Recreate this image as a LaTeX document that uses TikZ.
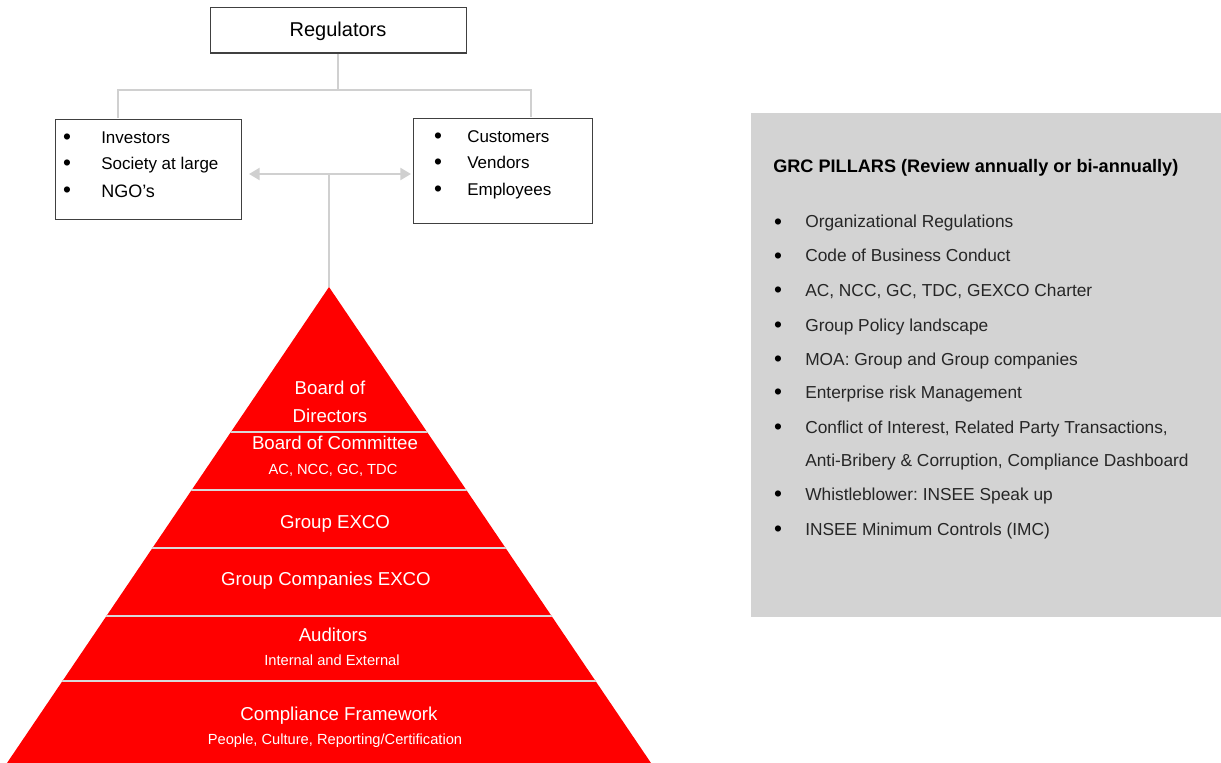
\documentclass[tikz,border=0pt]{standalone}
\usepackage{fontspec}
\setmainfont{Liberation Sans}
\usetikzlibrary{arrows.meta}
\definecolor{pyrred}{HTML}{FF0000}
\definecolor{sepgray}{HTML}{D9D9D9}
\definecolor{conngray}{HTML}{D0D0D0}
\definecolor{panelgray}{HTML}{D3D3D3}
\newcommand{\fs}[1]{\fontsize{#1}{#1}\selectfont}
\frenchspacing
\begin{document}
\begin{tikzpicture}[x=0.75pt,y=-0.75pt,
  outbox/.style={draw=black!75,line width=1.1pt,fill=white,anchor=north west,inner sep=0pt},
  conn/.style={draw=conngray,line width=1.6pt},
  sepline/.style={draw=sepgray,line width=1.6pt},
  pyrbig/.style={text=white,font=\fs{14pt},anchor=base,inner sep=0pt},
  pyrsmall/.style={text=white,font=\fs{11pt},anchor=base,inner sep=0pt},
  boxtxt/.style={font=\fs{12.75pt},anchor=base west,inner sep=0pt},
  bul/.style={font=\fs{17pt},anchor=base,inner sep=0pt},
  grctxt/.style={font=\fs{13pt}\frenchspacing,text=black!85,anchor=base west,inner sep=0pt},
]
\useasboundingbox (0,0) rectangle (1221,763);
\fill[white] (0,0) rectangle (1221,763);

% Regulators box
\node[outbox,minimum width=192pt,minimum height=34pt] (reg) at (210,7) {};
\node[font=\fs{15pt},anchor=base,inner sep=0pt] (regt) at (338,37) {Regulators};

% stakeholder boxes
\node[outbox,minimum width=139.5pt,minimum height=75pt] (lb) at (55,119) {};
\node[outbox,minimum width=134.25pt,minimum height=78.75pt] (rb) at (413,118) {};

\node[bul] (lb1b) at (67,145) {•};
\node[boxtxt] (lb1) at (101,144) {Investors};
\node[bul] (lb2b) at (67,171) {•};
\node[boxtxt] (lb2) at (101,170) {Society at large};
\node[bul] (lb3b) at (67,198) {•};
\node[boxtxt,font=\fs{13.5pt}] (lb3) at (101,198) {NGO’s};

\node[bul] (rb1b) at (438,144) {•};
\node[boxtxt] (rb1) at (467,143) {Customers};
\node[bul] (rb2b) at (438,170) {•};
\node[boxtxt] (rb2) at (467,169) {Vendors};
\node[bul] (rb3b) at (438,197) {•};
\node[boxtxt] (rb3) at (467,196) {Employees};

% connectors from Regulators
\coordinate (j) at (338,90);
\coordinate (lt) at (118,118);
\coordinate (rt) at (531,117);
\draw[conn] (j |- reg.south) -- (j);
\draw[conn] (lt) -- (lt |- j) -- (rt |- j) -- (rt);

% double arrow and stem
\coordinate (al) at (249,174);
\coordinate (ar) at (411,174);
\coordinate (stem) at (329,174);
\coordinate (apex) at (329,287);
\coordinate (bl) at (7,763);
\coordinate (br) at (651,763);
\draw[conn,{Triangle[length=8pt,width=9pt]}-{Triangle[length=8pt,width=9pt]}] (al) -- (ar);
\draw[conn] (stem) -- (apex);

% pyramid
\fill[pyrred] (apex) -- (bl) -- (br) -- cycle;
\begin{scope}
  \clip (apex) -- (bl) -- (br) -- cycle;
  \foreach \yy in {432,490,548,616,681} {
    \draw[sepline] (0,\yy) -- (700,\yy);
  }
\end{scope}

\node[pyrbig] (p1a) at (330,394) {Board of};
\node[pyrbig] (p1b) at (330,422) {Directors};
\node[pyrbig] (p2a) at (335,449) {Board of Committee};
\node[pyrsmall] (p2b) at (333,474) {AC, NCC, GC, TDC};
\node[pyrbig] (p3) at (335,528) {Group EXCO};
\node[pyrbig] (p4) at (326,585) {Group Companies EXCO};
\node[pyrbig] (p5a) at (333,641) {Auditors};
\node[pyrsmall] (p5b) at (332,665) {Internal and External};
\node[pyrbig] (p6a) at (339,720) {Compliance Framework};
\node[pyrsmall] (p6b) at (335,744) {People, Culture, Reporting/Certification};

% GRC panel
\node[fill=panelgray,minimum width=352.5pt,minimum height=378pt,anchor=north west,inner sep=0pt] (grc) at (751,113) {};
\node[font=\fs{13.6pt}\bfseries,anchor=base west,inner sep=0pt] (grct) at (773,173) {GRC PILLARS (Review annually or bi-annually)};

\foreach \yy/\tt [count=\i] in {
  228/Organizational Regulations,
  262/Code of Business Conduct,
  296/{AC, NCC, GC, TDC, GEXCO Charter},
  331/Group Policy landscape,
  365/MOA: Group and Group companies,
  398/Enterprise risk Management,
  433/{Conflict of Interest, Related Party Transactions,},
  500/Whistleblower: INSEE Speak up,
  535/INSEE Minimum Controls (IMC)} {
  \node[bul] (gb\i) at (778,\yy+1) {•};
  \node[grctxt] (gi\i) at (805,\yy) {\tt};
}
\node[grctxt] (gi7b) at (805,466) {Anti-Bribery \& Corruption, Compliance Dashboard};
\end{tikzpicture}
\end{document}
